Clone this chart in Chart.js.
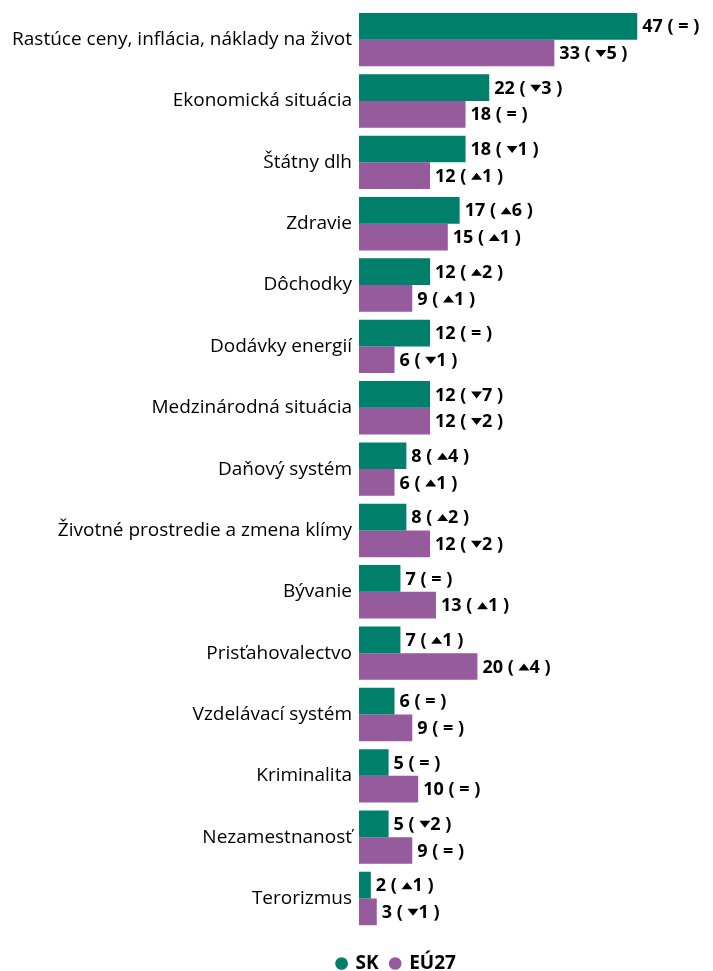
<!DOCTYPE html>
<meta charset="utf-8">
<style>
  body { margin: 0; background: #fff; }
</style>
<body>
<script src="https://cdn.jsdelivr.net/npm/chart.js@4.4.0/dist/chart.umd.min.js"></script>
<div style="width:713px;height:971px;">
  <canvas id="issues"></canvas>
</div>
<script>
var categories = ["Rastúce ceny, inflácia, náklady na život", "Ekonomická situácia", "Štátny dlh", "Zdravie",
  "Dôchodky", "Dodávky energií", "Medzinárodná situácia", "Daňový systém",
  "Životné prostredie a zmena klímy", "Bývanie", "Prisťahovalectvo", "Vzdelávací systém",
  "Kriminalita", "Nezamestnanosť", "Terorizmus"];
var skValues = [47, 22, 18, 17, 12, 12, 12, 8, 8, 7, 7, 6, 5, 5, 2];
var skChange = ["=", "▼3", "▼1", "▲6", "▲2", "=", "▼7", "▲4", "▲2", "=", "▲1", "=", "=", "▼2", "▲1"];
var euValues = [33, 18, 12, 15, 9, 6, 12, 6, 12, 13, 20, 9, 10, 9, 3];
var euChange = ["▼5", "=", "▲1", "▲1", "▲1", "▼1", "▼2", "▲1", "▼2", "▲1", "▲4", "=", "=", "=", "▼1"];

var green = "#007f6a";
var purple = "#955b9d";

// value + change written after each bar, arrows drawn as small triangles
var barLabels = {
  id: "barLabels",
  afterLayout: function(chart) {
    // legend sits a bit right of the page centre
    chart.legend.left += 67;
    chart.legend.right += 67;
  },
  afterDatasetsDraw: function(chart) {
    var ctx = chart.ctx;
    var changes = [skChange, euChange];
    ctx.save();
    ctx.font = "bold 18px 'Open Sans', sans-serif";
    ctx.fillStyle = "#000";
    ctx.textBaseline = "middle";
    chart.data.datasets.forEach(function(ds, di) {
      chart.getDatasetMeta(di).data.forEach(function(bar, i) {
        var x = bar.x + 5, y = bar.y + 1;
        var ch = changes[di][i];
        var head = ds.data[i] + " ( ";
        ctx.fillText(head, x, y);
        x += ctx.measureText(head).width;
        var rest = ch;
        if (ch[0] == "▲" || ch[0] == "▼") {
          ctx.beginPath();
          if (ch[0] == "▲") {
            ctx.moveTo(x, y + 3); ctx.lineTo(x + 11, y + 3); ctx.lineTo(x + 5.5, y - 4);
          } else {
            ctx.moveTo(x, y - 4); ctx.lineTo(x + 11, y - 4); ctx.lineTo(x + 5.5, y + 3);
          }
          ctx.closePath();
          ctx.fill();
          x += 11;
          rest = ch.slice(1);
        }
        ctx.fillText(rest + " )", x, y);
      });
    });
    ctx.restore();
  }
};

new Chart(document.getElementById("issues"), {
  type: "bar",
  data: {
    labels: categories,
    datasets: [
      { label: "SK", data: skValues, backgroundColor: green },
      { label: "EÚ27", data: euValues, backgroundColor: purple }
    ]
  },
  options: {
    indexAxis: "y",
    responsive: true,
    maintainAspectRatio: false,
    animation: false,
    layout: { padding: { top: 9, right: 58, bottom: -12, left: 4 } },
    datasets: { bar: { categoryPercentage: 0.87, barPercentage: 1 } },
    scales: {
      x: { display: false, min: 0, max: 50 },
      y: {
        grid: { display: false, drawTicks: false },
        border: { display: false },
        afterFit: function(scale) {
          scale.width = 355;
          scale.paddingTop = 0;
          scale.paddingBottom = 0;
        },
        ticks: {
          color: "#000",
          padding: 7,
          font: { family: "'Open Sans', sans-serif", size: 19 }
        }
      }
    },
    plugins: {
      legend: {
        position: "bottom",
        title: { display: true, text: " ", font: { size: 4 }, padding: { top: 8, bottom: 0 } },
        labels: {
          usePointStyle: true,
          pointStyle: "circle",
          boxWidth: 9,
          boxHeight: 9,
          color: "#000",
          padding: 12,
          font: { family: "'Open Sans', sans-serif", size: 19, weight: "bold" }
        }
      },
      tooltip: { enabled: false }
    }
  },
  plugins: [barLabels]
});
</script>
</body>
